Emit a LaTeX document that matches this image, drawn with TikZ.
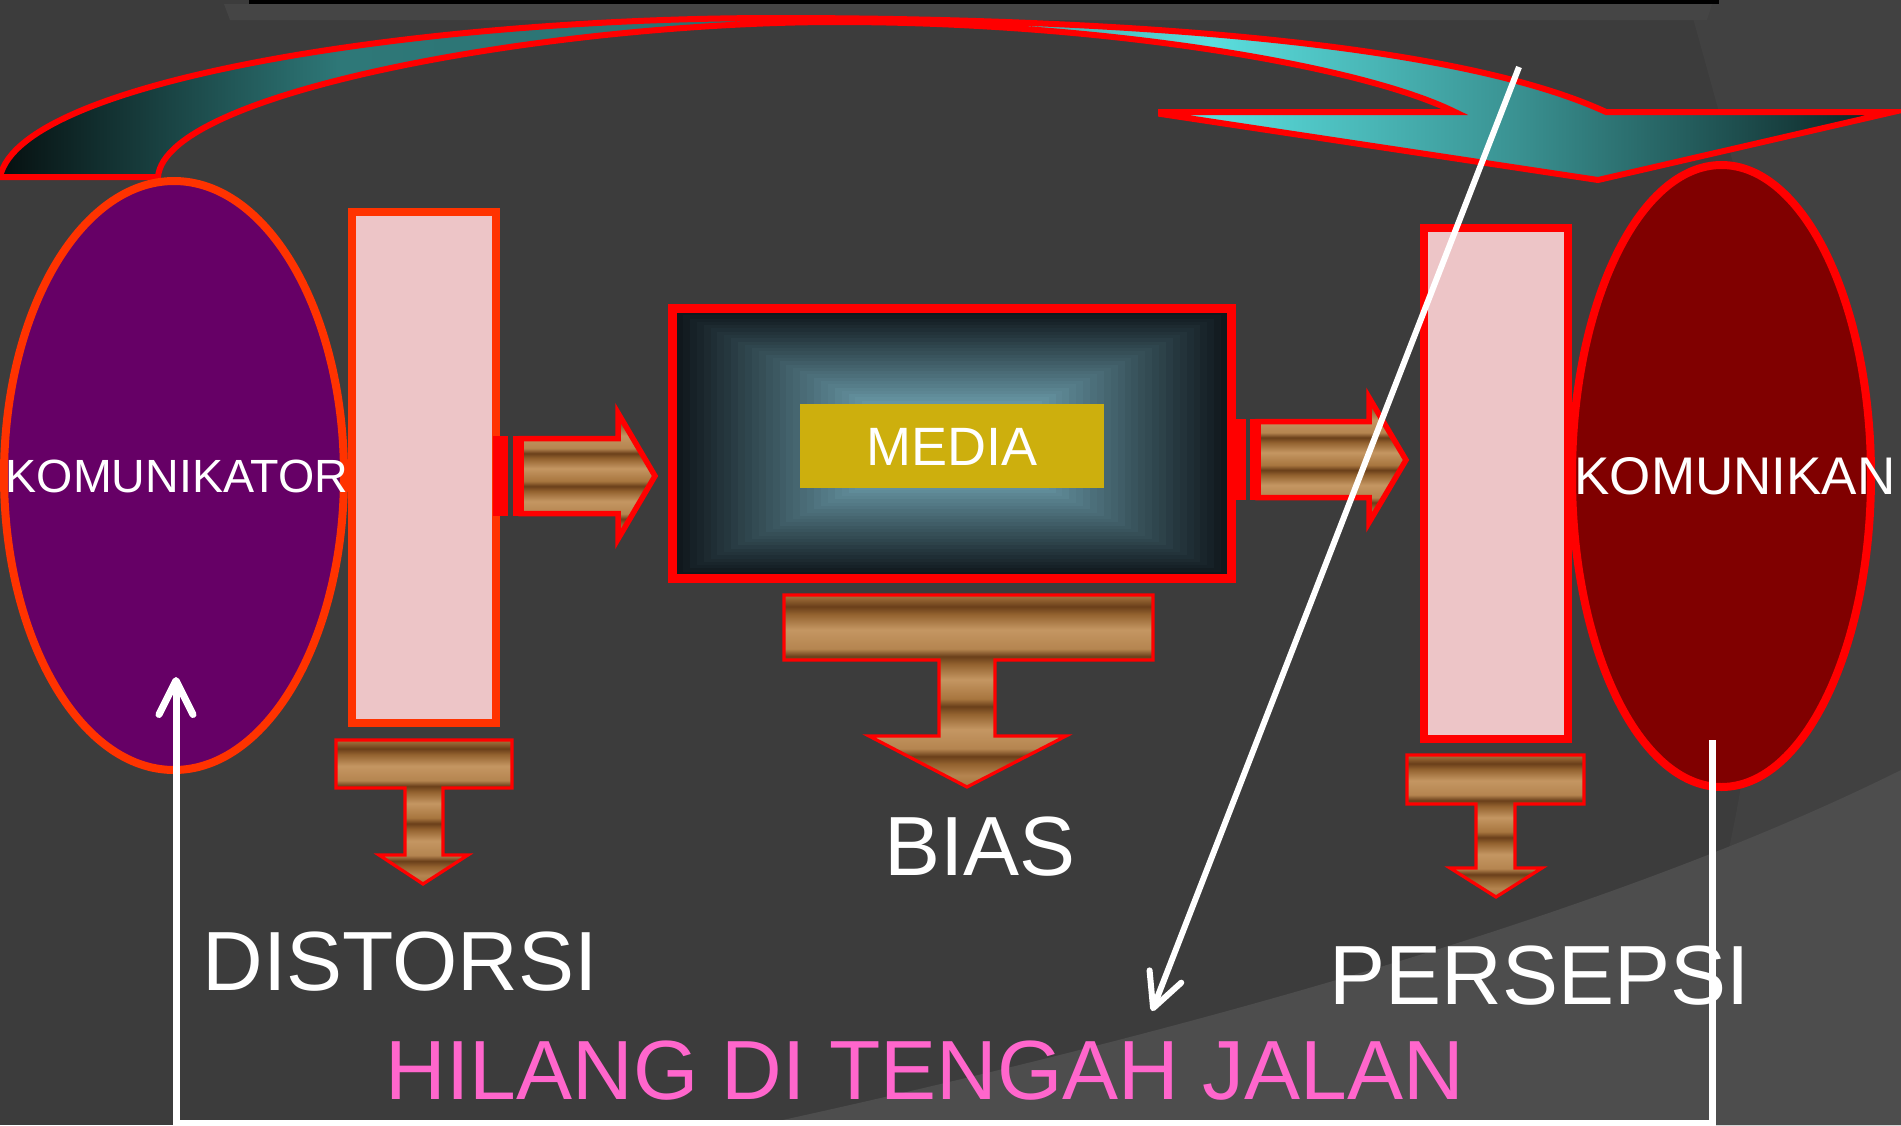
\documentclass[tikz,border=0pt]{standalone}
\usepackage{fontspec}
\setmainfont{Liberation Sans}
\usetikzlibrary{shapes.geometric,arrows.meta}
\definecolor{bgc}{HTML}{3C3C3C}
\definecolor{bgl}{HTML}{4D4D4D}
\definecolor{bgr}{HTML}{414141}
\definecolor{stripc}{HTML}{454545}
\definecolor{purp}{HTML}{660066}
\definecolor{maroonc}{HTML}{800000}
\definecolor{orR}{HTML}{FF3300}
\definecolor{pinkF}{HTML}{EDC5C7}
\definecolor{medD}{HTML}{10181D}
\definecolor{medL}{HTML}{6A9AA8}
\definecolor{goldc}{HTML}{CDAF0D}
\definecolor{hot}{HTML}{FF66CC}
\definecolor{a0}{HTML}{061010}
\definecolor{a1}{HTML}{2E7878}
\definecolor{a2}{HTML}{2A7070}
\definecolor{a3}{HTML}{5ADEDE}
\definecolor{a4}{HTML}{3A9292}
\definecolor{a5}{HTML}{0A1E1E}
\definecolor{w1}{HTML}{A8763F}
\definecolor{w2}{HTML}{B58550}
\definecolor{w3}{HTML}{93622F}
\definecolor{w4}{HTML}{6A3F1A}
\definecolor{w5}{HTML}{C49662}
\pgfdeclarehorizontalshading{arcsh}{100bp}{color(0bp)=(a0); color(25bp)=(a0); color(34bp)=(a1); color(47bp)=(a2); color(57bp)=(a3); color(65bp)=(a4); color(75bp)=(a5); color(100bp)=(a5)}
\pgfdeclareverticalshading{wood}{100bp}{color(0bp)=(w1); color(25bp)=(w1); color(28bp)=(w2); color(31bp)=(w3); color(33bp)=(w4); color(35bp)=(w2); color(40bp)=(w5); color(44bp)=(w3); color(46bp)=(w4); color(48bp)=(w1); color(53bp)=(w5); color(57bp)=(w3); color(59bp)=(w4); color(61bp)=(w2); color(66bp)=(w5); color(70bp)=(w3); color(72bp)=(w4); color(75bp)=(w1); color(100bp)=(w1)}
\tikzset{
  woodarrow/.style={shading=wood, draw=red, line width=2.75pt, line join=miter},
  woodcallout/.style={shading=wood, draw=red, line width=1.6pt, line join=miter},
  barbox/.style={rectangle, fill=pinkF, line width=4pt, minimum width=72pt, minimum height=255.5pt, inner sep=0pt},
  bigell/.style={ellipse, line width=4pt, inner sep=0pt},
  lbl/.style={text=white, inner sep=0pt},
  biglbl/.style={lbl, font=\fontsize{42pt}{50pt}\selectfont},
  wl/.style={draw=white, line width=3.5pt, line join=miter},
  tipw/.style={-{Straight Barb[length=17pt,width=17pt,round]}}
}
\begin{document}
\begin{tikzpicture}[x=0.5pt,y=-0.5pt]
\path[use as bounding box] (0,0) rectangle (1901,1125);
\clip (0,0) rectangle (1901,1125);
% background
\fill[bgc] (0,0) rectangle (1901,1125);
\fill[bgr] (1688,0) -- (1901,0) -- (1901,1125) -- (1635,1125) .. controls (1770,850) and (1790,500) .. (1735,170) -- cycle;
\fill[bgl] (760,1125) .. controls (1150,1040) and (1600,920) .. (1901,770) -- (1901,1125) -- cycle;
\fill[stripc] (224,4) -- (1712,4) -- (1707,20) -- (230,20) -- cycle;
\fill[black] (249,0) rectangle (1719,4);
% curved arrow
\shade[shading=arcsh, draw=red, line width=3pt, line join=miter]
  (0,177) .. controls (20,80) and (420,18) .. (776,18)
  .. controls (1100,18) and (1450,40) .. (1606,112)
  -- (1893,112) -- (1598,180) -- (1161,114) -- (1161,112) -- (1455,112)
  .. controls (1360,65) and (1100,22) .. (837,22)
  .. controls (560,22) and (165,90) .. (158,177) -- cycle;
% ellipses
\node[bigell, draw=orR, fill=purp, minimum width=170pt, minimum height=294.5pt] (komtor) at (174,475.5) {};
\node[bigell, draw=red, fill=maroonc, minimum width=149.5pt, minimum height=311pt] (komkan) at (1721.5,476) {};
% pink bars
\node[barbox, draw=orR] (barL) at (424,467.5) {};
\node[barbox, draw=red] (barR) at (1496,483.5) {};
% media box gradient
\foreach \i in {0,...,39}{
  \pgfmathsetmacro\gT{1-\i/40}
  \pgfmathtruncatemacro\gP{min(100,(1-\gT)/0.7*100)}
  \fill[medL!\gP!medD] ({952-\gT*276},{443.5-\gT*131.5}) rectangle ({952+\gT*276},{443.5+\gT*131.5});
}
\node[rectangle, draw=red, line width=4.5pt, minimum width=279.5pt, minimum height=135pt, inner sep=0pt] (media) at (952,443.5) {};
\node[rectangle, fill=goldc, minimum width=152pt, minimum height=42pt, inner sep=0pt] (mlabel) at (952,446) {};
\node[lbl, font=\fontsize{27pt}{32pt}\selectfont] (tmedia) at (952,447) {MEDIA};
% striped arrows
\fill[red] (493,436) rectangle (508,516);
\fill[red] (513,436) rectangle (520,516);
\shade[woodarrow] (521,438.5) -- (618,438.5) -- (618,413) -- (655,476) -- (618,539) -- (618,513.5) -- (521,513.5) -- cycle;
\fill[red] (1236,419) rectangle (1246,500);
\fill[red] (1250,419) rectangle (1257,500);
\shade[woodarrow] (1258,421.5) -- (1369,421.5) -- (1369,397.5) -- (1406,460) -- (1369,522.5) -- (1369,497.5) -- (1258,497.5) -- cycle;
% down arrow callouts
\shade[woodcallout] (336,740) -- (512,740) -- (512,788) -- (443,788) -- (443,855) -- (468,855) -- (423,884) -- (379,855) -- (405,855) -- (405,788) -- (336,788) -- cycle;
\shade[woodcallout] (784,595) -- (1153,595) -- (1153,660) -- (995,660) -- (995,736) -- (1066,736) -- (967,787) -- (869,736) -- (939,736) -- (939,660) -- (784,660) -- cycle;
\shade[woodcallout] (1407,755) -- (1584,755) -- (1584,804) -- (1515,804) -- (1515,868) -- (1542,868) -- (1496,897) -- (1450,868) -- (1476,868) -- (1476,804) -- (1407,804) -- cycle;
% labels
\node[lbl, font=\fontsize{23.3pt}{28pt}\selectfont] (tkomtor) at (177,476) {KOMUNIKATOR};
\node[lbl, font=\fontsize{26.5pt}{32pt}\selectfont] (tkomkan) at (1735,476) {KOMUNIKAN};
\node[biglbl] (tbias) at (980,847) {BIAS};
\node[biglbl] (tdist) at (400,962) {DISTORSI};
\node[biglbl] (tpers) at (1540,976) {PERSEPSI};
\node[biglbl, text=hot] (thilang) at (925,1071) {HILANG DI TENGAH JALAN};
% white connectors
\coordinate (dStart) at (1519,67);
\coordinate (dEnd) at (1152,1011);
\draw[wl, line width=3pt, tipw] (dStart) -- (dEnd);
\coordinate (fbStart) at (1712,740);
\coordinate (fbR) at (1712,1123);
\coordinate (fbL) at (176,1123);
\coordinate (fbTip) at (176,677);
\draw[wl, tipw] (fbStart) -- (fbR) -- (fbL) -- (fbTip);
\end{tikzpicture}
\end{document}
